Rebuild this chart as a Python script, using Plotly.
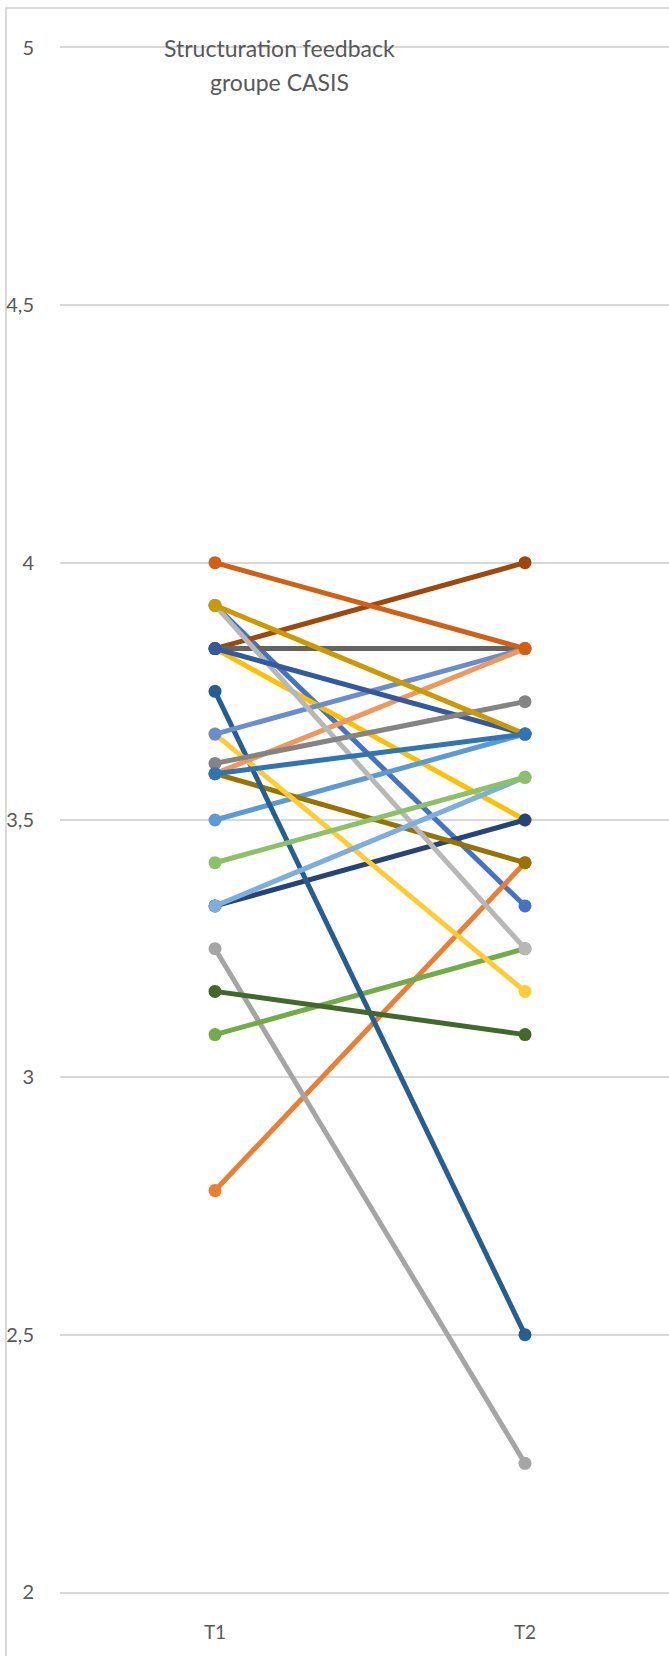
import plotly.graph_objects as go

# Scores at the two time points, one entry per participant (drawing order)
timepoints = ["T1", "T2"]
t1_scores = [3.917, 2.78, 3.25, 3.833, 3.5, 3.083, 3.333, 3.833, 3.833, 3.59, 3.75, 3.167,
             3.667, 3.667, 3.59, 3.917, 3.333, 3.417, 3.833, 4.0, 3.61, 3.917, 3.59]
t2_scores = [3.333, 3.417, 2.25, 3.5, 3.667, 3.25, 3.5, 4.0, 3.833, 3.417, 2.5, 3.083,
             3.167, 3.833, 3.833, 3.25, 3.583, 3.583, 3.667, 3.833, 3.73, 3.667, 3.667]
series_colors = ["#4472C4", "#ED7D31", "#A5A5A5", "#FFC000", "#5B9BD5", "#70AD47", "#264478",
                 "#9E480E", "#636363", "#997300", "#255E91", "#43682B", "#FFCD33", "#698ED0",
                 "#F1975A", "#B7B7B7", "#7CAFDD", "#8CC168", "#335AA1", "#D26012", "#848484",
                 "#CC9A00", "#2E75B6"]
y_ticks = [2, 2.5, 3, 3.5, 4, 4.5, 5]
title_lines = ["Structuration feedback", "groupe CASIS"]

W, H = 669, 1656
ML, MR, MT, MB = 60, 0, 48, 64
plot_w = W - ML - MR
plot_h = H - MT - MB
cat_px = 310  # pixels between the two categories
GRID = "#d9d9d9"
TEXT = "#595959"
FONT = "Lato, 'Open Sans', sans-serif"

fig = go.Figure()
for i, (a, b) in enumerate(zip(t1_scores, t2_scores)):
    fig.add_trace(go.Scatter(
        x=[0, 1], y=[a, b], mode="lines+markers",
        line=dict(color=series_colors[i], width=5),
        marker=dict(color=series_colors[i], size=13),
        name=f"Participant {i + 1}", showlegend=False, hoverinfo="y",
    ))

def px_x(px):
    return (px - ML) / plot_w

def px_y(py):
    return 1 - (py - MT) / plot_h

title_annotations = [
    dict(text=line, xref="paper", yref="paper", x=px_x(279), y=px_y(cy),
         xanchor="center", yanchor="middle", showarrow=False,
         font=dict(size=23, color=TEXT, family=FONT))
    for line, cy in zip(title_lines, [48, 82])
]

fig.update_layout(
    width=W, height=H, autosize=False,
    margin=dict(l=ML, r=MR, t=MT, b=MB, pad=0),
    paper_bgcolor="white", plot_bgcolor="white",
    separators=", ",
    font=dict(family=FONT, color=TEXT),
    xaxis=dict(
        range=[-0.5, -0.5 + plot_w / cat_px],
        tickvals=[0, 1], ticktext=timepoints,
        showgrid=False, zeroline=False,
        showline=True, mirror=True, linecolor=GRID, linewidth=2,
        ticks="outside", ticklen=22, tickcolor="rgba(0,0,0,0)",
        tickfont=dict(size=19, color=TEXT),
    ),
    yaxis=dict(
        range=[y_ticks[0], y_ticks[-1]],
        tickvals=y_ticks,
        showgrid=True, gridcolor=GRID, gridwidth=2,
        zeroline=False, showline=False,
        ticks="outside", ticklen=21, tickcolor="rgba(0,0,0,0)",
        tickfont=dict(size=20, color=TEXT),
    ),
    shapes=[dict(
        type="rect", xref="paper", yref="paper",
        x0=px_x(6), x1=px_x(W + 10), y0=px_y(H + 10), y1=px_y(8),
        line=dict(color=GRID, width=2), fillcolor="rgba(0,0,0,0)", layer="below",
    )],
    annotations=title_annotations,
)

fig.write_html("out.html")
